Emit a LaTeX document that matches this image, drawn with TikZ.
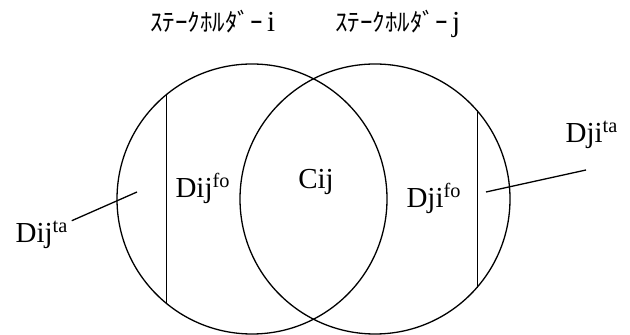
\documentclass[tikz,border=0pt]{standalone}
\usepackage{fontspec}
\setmainfont{Liberation Serif}
\newfontfamily\jpfont{Noto Sans CJK JP}
\usetikzlibrary{positioning}
\tikzset{
  ring/.style={circle, draw, line width=0.65pt, minimum size=135pt, inner sep=0pt},
  part/.style={line width=0.65pt},
  lbl/.style={font=\fontsize{14.5}{16}\selectfont, inner sep=0pt, anchor=base},
  head/.style={font=\fontsize{12.5}{14}\selectfont, inner sep=0pt, anchor=base west}
}

\begin{document}
\begin{tikzpicture}[x=0.5pt, y=-0.5pt]
  \useasboundingbox (0,0) rectangle (630,335);
  % Stakeholder circles
  \node[ring] (si) at (252,199) {};
  \node[ring] (sj) at (375,199) {};
  % Inner boundaries
  \draw[part] (si.129) -- (si.231);
  \draw[part] (sj.41.6) -- (sj.-41.6);

  % Headers
  \node[head] (hi) at (150,32) {{\jpfont ｽﾃｰｸﾎﾙﾀﾞｰ}\,{\fontsize{14.5}{16}\selectfont i}};
  \node[head] (hj) at (335,32) {{\jpfont ｽﾃｰｸﾎﾙﾀﾞｰ}\,{\fontsize{14.5}{16}\selectfont j}};

  % Region labels
  \node[lbl] (dijfo) at (203,198) {Dij\textsuperscript{fo}};
  \node[lbl] (cij) at (316,189) {Cij};
  \node[lbl] (djifo) at (434,208) {Dji\textsuperscript{fo}};
  \node[lbl] (dijta) at (42,243) {Dij\textsuperscript{ta}};
  \node[lbl] (djita) at (592,143) {Dji\textsuperscript{ta}};

  % Leader lines
  \coordinate (pi) at (137,192);
  \coordinate (pj) at (486,192);
  \coordinate (qj) at (586,170);
  \draw[part] ([xshift=1.5pt]dijta.north east) -- (pi);
  \draw[part] (pj) -- (qj);
\end{tikzpicture}
\end{document}
